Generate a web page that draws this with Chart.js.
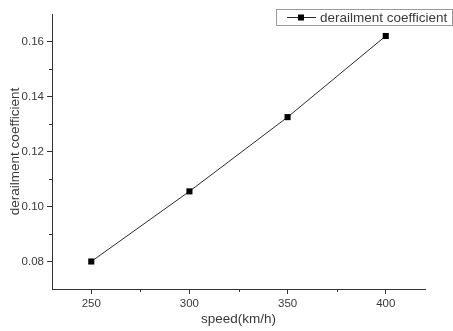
<!DOCTYPE html>
<html>
<head>
<meta charset="utf-8">
<script src="https://cdn.jsdelivr.net/npm/chart.js@4"></script>
<style>
  html, body { margin: 0; padding: 0; background: #fff; }
  #wrap { width: 453px; height: 331px; }
</style>
</head>
<body>
<div id="wrap"><canvas id="chart"></canvas></div>
<script>
const speeds = [250, 300, 350, 400];
const coefficients = [0.080, 0.1055, 0.1325, 0.162];
const seriesLabel = 'derailment coefficient';

const xTicks = [250, 300, 350, 400];
const xMinorTicks = [275, 325, 375];
const yTicks = [0.08, 0.10, 0.12, 0.14, 0.16];
const yMinorTicks = [0.09, 0.11, 0.13, 0.15];

const axisColor = '#333';
const textColor = '#3a3a3a';
const fontFamily = 'Arial, "Liberation Sans", sans-serif';

// short outward ticks between the labelled ones
const minorTicks = {
    id: 'minorTicks',
    afterDraw(chart) {
        const { ctx, scales: { x, y } } = chart;
        ctx.save();
        ctx.strokeStyle = axisColor;
        ctx.lineWidth = 1;
        ctx.beginPath();
        xMinorTicks.forEach(v => {
            const px = Math.round(x.getPixelForValue(v)) + 0.5;
            ctx.moveTo(px, x.top);
            ctx.lineTo(px, x.top + 3);
        });
        yMinorTicks.forEach(v => {
            const py = Math.round(y.getPixelForValue(v)) + 0.5;
            ctx.moveTo(y.right, py);
            ctx.lineTo(y.right - 3, py);
        });
        ctx.stroke();
        ctx.restore();
    }
};

// boxed legend in the top right corner
const boxLegend = {
    id: 'boxLegend',
    afterDraw(chart) {
        const { ctx } = chart;
        const ds = chart.data.datasets[0];
        ctx.save();
        ctx.strokeStyle = '#9a9a9a';
        ctx.lineWidth = 1;
        ctx.strokeRect(276.5, 9.5, 176, 16);
        ctx.strokeStyle = ds.borderColor;
        ctx.beginPath();
        ctx.moveTo(287, 17.5);
        ctx.lineTo(316, 17.5);
        ctx.stroke();
        ctx.fillStyle = ds.pointBackgroundColor;
        ctx.fillRect(298, 14.5, 6, 6);
        ctx.fillStyle = textColor;
        ctx.font = '13.5px ' + fontFamily;
        ctx.textBaseline = 'middle';
        ctx.fillText(ds.label, 320, 18);
        ctx.restore();
    }
};

new Chart(document.getElementById('chart'), {
    type: 'line',
    data: {
        datasets: [{
            label: seriesLabel,
            data: speeds.map((s, i) => ({ x: s, y: coefficients[i] })),
            borderColor: '#2b2b2b',
            borderWidth: 1,
            pointStyle: 'rect',
            pointRadius: 4.3,
            pointBackgroundColor: '#000',
            pointBorderColor: '#000',
            pointBorderWidth: 0,
            tension: 0
        }]
    },
    options: {
        responsive: true,
        maintainAspectRatio: false,
        animation: false,
        layout: { padding: { left: 0, top: 14, right: 28, bottom: 0 } },
        plugins: {
            legend: { display: false },
            tooltip: { enabled: false }
        },
        scales: {
            x: {
                type: 'linear',
                min: 230,
                max: 420,
                afterFit: (scale) => { scale.height = 42; },
                afterBuildTicks: (scale) => { scale.ticks = xTicks.map(v => ({ value: v })); },
                grid: { drawOnChartArea: false, drawTicks: true, tickLength: 5, tickColor: axisColor },
                border: { color: axisColor, width: 1 },
                ticks: {
                    color: textColor,
                    padding: 3,
                    maxRotation: 0,
                    font: { family: fontFamily, size: 11.5 }
                },
                title: {
                    display: true,
                    text: 'speed(km/h)',
                    color: textColor,
                    font: { family: fontFamily, size: 13.5 },
                    padding: { top: 0, bottom: 4 }
                }
            },
            y: {
                type: 'linear',
                min: 0.07,
                max: 0.17,
                afterFit: (scale) => { scale.width = 52; },
                afterBuildTicks: (scale) => { scale.ticks = yTicks.map(v => ({ value: v })); },
                grid: { drawOnChartArea: false, drawTicks: true, tickLength: 5, tickColor: axisColor },
                border: { color: axisColor, width: 1 },
                ticks: {
                    color: textColor,
                    padding: 3,
                    font: { family: fontFamily, size: 11.5 },
                    callback: (v) => v.toFixed(2)
                },
                title: {
                    display: true,
                    text: seriesLabel,
                    color: textColor,
                    font: { family: fontFamily, size: 13.5 },
                    padding: { top: 7, bottom: 0 }
                }
            }
        }
    },
    plugins: [minorTicks, boxLegend]
});
</script>
</body>
</html>
